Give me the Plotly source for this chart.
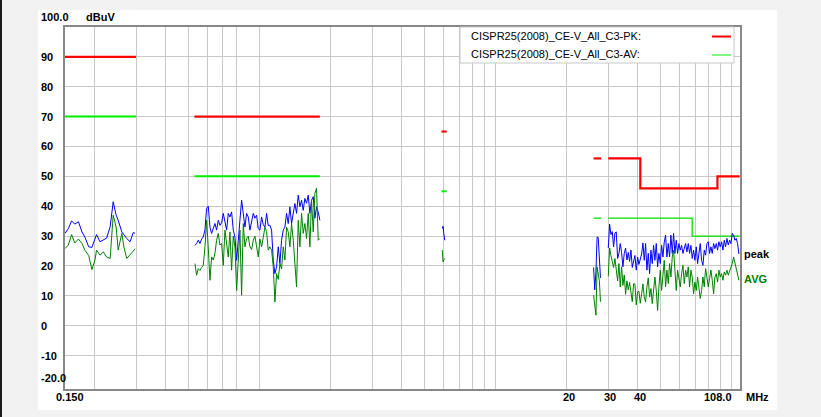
import math
import plotly.graph_objects as go

# ---------------- data ----------------
# Band 1: 0.15 - 0.3 MHz
b1_freq = [0.150, 0.155, 0.160, 0.165, 0.171, 0.177, 0.182, 0.189, 0.195, 0.201, 0.204, 0.211,
           0.218, 0.225, 0.233, 0.240, 0.247, 0.252, 0.261, 0.267, 0.274, 0.283, 0.292, 0.297]
b1_pk = [30.9, 32.5, 35.1, 34.0, 34.8, 31.4, 29.7, 26.4, 26.2, 28.9, 30.5, 28.1,
         28.6, 29.3, 33.1, 41.5, 37.0, 35.3, 31.4, 30.3, 29.2, 28.1, 31.2, 30.9]
b1_av = [25.8, 27.0, 30.5, 27.7, 29.0, 27.5, 25.3, 23.5, 18.8, 22.0, 25.3, 23.6,
         24.7, 23.0, 22.5, 37.0, 33.0, 25.3, 30.9, 26.0, 22.5, 23.6, 25.0, 25.8]

# Band 2: 0.53 - 1.8 MHz
b2_freq = [0.5327, 0.5414, 0.5503, 0.5593, 0.5685, 0.5778, 0.5873, 0.5969, 0.6067, 0.6166,
           0.6267, 0.6370, 0.6474, 0.6580, 0.6688, 0.6797, 0.6909, 0.7022, 0.7137, 0.7254,
           0.7373, 0.7494, 0.7616, 0.7741, 0.7868, 0.7997, 0.8128, 0.8261, 0.8396, 0.8534,
           0.8673, 0.8815, 0.8960, 0.9107, 0.9256, 0.9407, 0.9561, 0.9718, 0.9877, 1.0039,
           1.0203, 1.0370, 1.0540, 1.0713, 1.0888, 1.1066, 1.1248, 1.1432, 1.1619, 1.1809,
           1.2003, 1.2199, 1.2399, 1.2602, 1.2808, 1.3018, 1.3231, 1.3448, 1.3668, 1.3892,
           1.4119, 1.4350, 1.4585, 1.4824, 1.5067, 1.5314, 1.5564, 1.5819, 1.6078, 1.6342,
           1.6609, 1.6881, 1.7158, 1.7439, 1.7724, 1.8014]
b2_pk = [26.9, 27.5, 28.6, 27.5, 29.0, 29.7, 32.0, 39.3, 40.0, 33.0,
         30.9, 32.5, 34.2, 32.0, 35.3, 33.6, 34.5, 37.6, 34.2, 32.0,
         37.6, 36.4, 38.1, 32.0, 29.7, 21.9, 28.6, 36.4, 42.0, 37.6,
         33.0, 37.6, 36.4, 32.0, 35.3, 37.6, 36.0, 37.0, 32.5, 32.0,
         36.4, 33.8, 33.0, 37.6, 33.5, 33.6, 32.0, 21.9, 17.4, 19.7,
         26.4, 20.8, 28.6, 32.0, 33.0, 37.6, 34.2, 39.8, 34.2, 37.6,
         40.9, 37.6, 43.7, 39.8, 42.0, 38.6, 42.6, 41.0, 43.7, 37.6,
         42.0, 43.2, 36.0, 39.8, 38.0, 35.3]
b2_av = [20.8, 16.9, 19.1, 18.5, 19.5, 20.2, 26.4, 35.3, 26.0, 15.2,
         23.0, 22.0, 24.2, 28.6, 30.9, 27.0, 27.5, 20.2, 32.0, 26.4,
         23.0, 31.4, 18.6, 30.0, 26.4, 11.8, 22.0, 32.0, 10.2, 34.2,
         26.4, 29.2, 30.0, 26.4, 25.5, 28.6, 30.0, 26.4, 23.0, 29.0,
         26.4, 29.5, 33.0, 31.5, 25.3, 26.4, 25.3, 19.7, 7.9, 17.4,
         15.5, 20.8, 19.0, 26.4, 22.0, 33.0, 31.4, 26.4, 34.2, 28.6,
         21.9, 13.0, 35.3, 26.4, 37.6, 30.9, 34.2, 29.2, 37.6, 26.4,
         42.0, 31.4, 44.3, 46.0, 28.6, 29.2]

# Band 3: 5.9 - 6.2 MHz
b3_freq = [5.94, 5.99, 6.03, 6.09]
b3_pk = [32.5, 33.3, 30.9, 28.6]
b3_av = [25.3, 21.3, 22.0, 22.5]

# Band 4a: 26 - 28 MHz
b4a_freq = [26.0, 26.3, 26.6, 26.9, 27.2, 27.5, 27.8]
b4a_pk = [19.5, 12.0, 18.0, 29.7, 29.5, 22.0, 16.0]
b4a_av = [10.2, 6.5, 3.5, 19.7, 17.0, 15.0, 8.0]

# Band 4b: 30 - 108 MHz
b4_freq = [30.00, 30.39, 30.79, 31.19, 31.60, 32.01, 32.43, 32.86, 33.29, 33.72,
           34.16, 34.61, 35.06, 35.52, 35.99, 36.46, 36.93, 37.42, 37.91, 38.40,
           38.90, 39.41, 39.93, 40.45, 40.98, 41.52, 42.06, 42.61, 43.17, 43.73,
           44.31, 44.89, 45.47, 46.07, 46.67, 47.28, 47.90, 48.53, 49.16, 49.81,
           50.46, 51.12, 51.79, 52.46, 53.15, 53.85, 54.55, 55.26, 55.99, 56.72,
           57.46, 58.22, 58.98, 59.75, 60.53, 61.32, 62.13, 62.94, 63.76, 64.60,
           65.44, 66.30, 67.17, 68.05, 68.94, 69.84, 70.75, 71.68, 72.62, 73.57,
           74.53, 75.50, 76.49, 77.49, 78.51, 79.53, 80.57, 81.63, 82.70, 83.78,
           84.88, 85.99, 87.11, 88.25, 89.41, 90.58, 91.76, 92.96, 94.18, 95.41,
           96.66, 97.93, 99.21, 100.51, 101.82, 103.16, 104.51, 105.87, 107.26]
b4_pk = [26.0, 34.0, 30.5, 31.5, 26.4, 31.0, 31.4, 22.5, 24.2, 27.5,
         24.5, 19.7, 24.2, 26.0, 22.0, 24.5, 21.5, 25.3, 19.5, 22.0,
         23.5, 18.6, 23.0, 20.5, 22.0, 24.0, 27.7, 21.9, 27.5, 18.6,
         24.2, 17.4, 25.3, 20.8, 26.9, 21.9, 27.5, 19.7, 24.2, 20.8,
         26.9, 23.0, 28.0, 30.3, 23.0, 27.5, 23.0, 30.3, 24.2, 30.9,
         24.2, 28.6, 24.2, 27.5, 25.3, 26.9, 24.2, 25.8, 27.5, 24.7,
         27.5, 24.2, 26.9, 22.5, 25.3, 21.9, 26.4, 20.8, 24.7, 27.5,
         21.9, 20.2, 25.3, 23.6, 27.5, 28.1, 24.2, 26.4, 24.2, 27.5,
         25.8, 27.5, 25.3, 28.1, 26.4, 28.1, 25.3, 28.6, 26.4, 29.2,
         27.0, 28.6, 27.5, 30.9, 30.3, 28.6, 29.2, 27.5, 24.0]
b4_av = [16.5, 26.0, 23.5, 21.0, 19.5, 22.5, 17.5, 15.0, 20.8, 13.0,
         19.7, 13.5, 17.0, 10.5, 15.0, 12.0, 14.5, 11.0, 8.0, 14.0,
         14.0, 7.0, 11.3, 11.5, 7.5, 10.7, 14.0, 9.6, 7.9, 13.0,
         16.0, 9.6, 12.4, 7.4, 11.8, 16.3, 11.8, 5.1, 13.0, 18.6,
         11.8, 16.3, 21.9, 13.0, 18.6, 14.1, 20.8, 16.3, 23.0, 25.3,
         19.7, 11.8, 18.6, 16.3, 13.0, 17.4, 20.2, 14.1, 18.6, 16.3,
         19.7, 13.0, 18.6, 16.3, 10.7, 14.6, 11.8, 16.3, 13.0, 9.1,
         11.8, 16.3, 13.0, 19.1, 16.3, 13.0, 15.8, 18.6, 15.2, 10.7,
         16.3, 17.4, 14.6, 18.6, 16.3, 17.4, 15.2, 18.0, 16.9, 18.6,
         16.9, 18.0, 19.1, 20.8, 23.0, 20.8, 18.6, 16.9, 15.2]

# Limit lines (CISPR25 class 3)
pk_lim_freq = [0.15, 0.3, None, 0.53, 1.8, None, 5.9, 6.2, None, 26, 28, None, 30, 41, 41, 87, 87, 108]
pk_lim_val = [90, 90, None, 70, 70, None, 65, 65, None, 56, 56, None, 56, 56, 46, 46, 50, 50]
av_lim_lf_freq = [0.15, 0.3, None, 0.53, 1.8, None, 5.9, 6.2]
av_lim_lf_val = [70, 70, None, 50, 50, None, 45, 45]
av_lim_hf_freq = [26, 28, None, 30, 68, 68, 108]
av_lim_hf_val = [36, 36, None, 36, 36, 30, 30]

y_ticks = [90, 80, 70, 60, 50, 40, 30, 20, 10, 0, -10]
x_grid = [0.2, 0.3, 0.4, 0.5, 0.6, 0.7, 0.8, 1, 2, 3, 4, 5, 6, 7, 8, 9, 10,
          20, 30, 40, 50, 60, 70, 80, 90, 100]
x_labels = [20, 30, 40]

legend_pk = "CISPR25(2008)_CE-V_All_C3-PK:"
legend_av = "CISPR25(2008)_CE-V_All_C3-AV:"


def join(*parts):
    out = []
    for i, p in enumerate(parts):
        if i:
            out.append(None)
        out.extend(p)
    return out


pk_x = join(b1_freq, b2_freq, b3_freq, b4a_freq, b4_freq)
pk_y = join(b1_pk, b2_pk, b3_pk, b4a_pk, b4_pk)
av_x = join(b1_freq, b2_freq, b3_freq, b4a_freq, b4_freq)
av_y = join(b1_av, b2_av, b3_av, b4a_av, b4_av)

# ---------------- figure ----------------
W, H = 821, 417
ML, MR, MT, MB = 65, 81, 27, 28
PW, PH = W - ML - MR, H - MT - MB


def px(x):
    return (x - ML) / PW


def py(y):
    return (H - MB - y) / PH


FONT = "Liberation Sans, Arial, sans-serif"

fig = go.Figure()
fig.add_trace(go.Scatter(x=av_lim_lf_freq, y=av_lim_lf_val, mode="lines",
                         line=dict(color="#00ee00", width=2), hoverinfo="skip"))
fig.add_trace(go.Scatter(x=av_lim_hf_freq, y=av_lim_hf_val, mode="lines",
                         line=dict(color="#00e000", width=1.3), hoverinfo="skip"))
fig.add_trace(go.Scatter(x=pk_lim_freq, y=pk_lim_val, mode="lines",
                         line=dict(color="#ff0000", width=2.2), hoverinfo="skip"))
fig.add_trace(go.Scatter(x=pk_x, y=pk_y, mode="lines", connectgaps=False,
                         line=dict(color="#0000ff", width=1), hoverinfo="skip"))
fig.add_trace(go.Scatter(x=av_x, y=av_y, mode="lines", connectgaps=False,
                         line=dict(color="#008000", width=1), hoverinfo="skip"))

fig.update_xaxes(type="log", range=[math.log10(0.15), math.log10(108.4)],
                 tickvals=x_grid, showticklabels=False, ticks="",
                 showgrid=True, gridcolor="#c8c8c8", gridwidth=1,
                 showline=True, mirror=True, linecolor="#888888", linewidth=2,
                 zeroline=False, fixedrange=True)
fig.update_yaxes(range=[-21.2, 100], tickvals=y_ticks, showticklabels=False, ticks="",
                 showgrid=True, gridcolor="#c8c8c8", gridwidth=1,
                 showline=True, mirror=True, linecolor="#888888", linewidth=2,
                 zeroline=False, fixedrange=True)

shapes = [
    dict(type="rect", xref="paper", yref="paper", x0=px(38), x1=px(777), y0=py(410), y1=py(10),
         fillcolor="white", line=dict(width=0), layer="below"),
    dict(type="rect", xref="paper", yref="paper", x0=px(0), x1=px(2), y0=py(H), y1=py(0),
         fillcolor="#1a1a1a", line=dict(width=0), layer="below"),
    dict(type="rect", xref="paper", yref="paper", x0=px(460), x1=px(734), y0=py(63), y1=py(27),
         fillcolor="white", line=dict(color="#c8c8c8", width=1), layer="above"),
    dict(type="line", xref="paper", yref="paper", x0=px(712), x1=px(731), y0=py(36.5), y1=py(36.5),
         line=dict(color="#ff0000", width=2), layer="above"),
    dict(type="line", xref="paper", yref="paper", x0=px(712), x1=px(731), y0=py(55), y1=py(55),
         line=dict(color="#00ee00", width=1), layer="above"),
]

ann = []
bold = dict(family=FONT, size=11, color="black", weight="bold")
for v in y_ticks:
    ann.append(dict(x=px(39), y=v, xref="paper", yref="y", text=str(v), showarrow=False,
                    xanchor="left", yanchor="middle", font=bold))
ann.append(dict(x=px(39), y=py(17), xref="paper", yref="paper", text="100.0", showarrow=False,
                xanchor="left", yanchor="middle", font=bold))
ann.append(dict(x=px(84), y=py(17), xref="paper", yref="paper", text="dBuV", showarrow=False,
                xanchor="left", yanchor="middle", font=bold))
ann.append(dict(x=px(39), y=py(378), xref="paper", yref="paper", text="-20.0", showarrow=False,
                xanchor="left", yanchor="middle", font=bold))
ann.append(dict(x=px(69.5), y=py(397), xref="paper", yref="paper", text="0.150", showarrow=False,
                xanchor="center", yanchor="middle", font=bold))
for v in x_labels:
    ann.append(dict(x=math.log10(v), y=py(397), xref="x", yref="paper", text=str(v), showarrow=False,
                    xanchor="center", yanchor="middle", xshift=2, font=bold))
ann.append(dict(x=px(717.5), y=py(397), xref="paper", yref="paper", text="108.0", showarrow=False,
                xanchor="center", yanchor="middle", font=bold))
ann.append(dict(x=px(757.5), y=py(397), xref="paper", yref="paper", text="MHz", showarrow=False,
                xanchor="center", yanchor="middle", font=bold))
ann.append(dict(x=px(742), y=py(254), xref="paper", yref="paper", text="peak", showarrow=False,
                xanchor="left", yanchor="middle", font=bold))
ann.append(dict(x=px(742), y=py(279), xref="paper", yref="paper", text="AVG", showarrow=False,
                xanchor="left", yanchor="middle",
                font=dict(family=FONT, size=11, color="#008000", weight="bold")))
reg = dict(family=FONT, size=11, color="black")
ann.append(dict(x=px(469), y=py(36.5), xref="paper", yref="paper", text=legend_pk, showarrow=False,
                xanchor="left", yanchor="middle", font=reg))
ann.append(dict(x=px(469), y=py(54.5), xref="paper", yref="paper", text=legend_av, showarrow=False,
                xanchor="left", yanchor="middle", font=reg))

fig.update_layout(width=W, height=H, margin=dict(l=ML, r=MR, t=MT, b=MB),
                  paper_bgcolor="#f2f2f2", plot_bgcolor="white", showlegend=False,
                  shapes=shapes, annotations=ann)

fig.write_html("out.html", config={"displayModeBar": False, "staticPlot": True},
               post_script="document.body.style.margin='0px';document.body.style.overflow='hidden';")
